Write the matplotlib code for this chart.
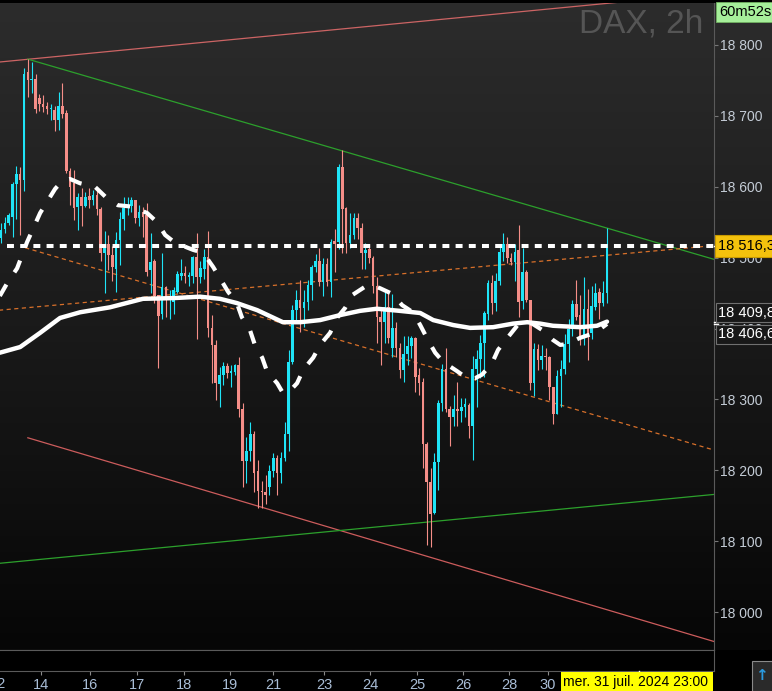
import numpy as np
import matplotlib
matplotlib.use("Agg")
import matplotlib.pyplot as plt
from matplotlib.patches import Rectangle
from matplotlib.colors import LinearSegmentedColormap

plt.rcParams['font.family'] = ['Liberation Sans', 'DejaVu Sans']
plt.rcParams['lines.scale_dashes'] = False

# DAX 2h candles (open / high / low / close)
opens = [18528, 18541, 18549, 18557, 18604, 18618, 18610, 18762, 18751, 18752,
         18725, 18717, 18714, 18709, 18708, 18694, 18714, 18704, 18622, 18606,
         18572, 18586, 18573, 18587, 18581, 18588, 18569, 18507, 18520, 18504,
         18484, 18525, 18555, 18570, 18573, 18581, 18556, 18565, 18560, 18482,
         18495, 18447, 18420, 18458, 18443, 18437, 18452, 18474, 18479, 18473,
         18474, 18501, 18473, 18484, 18501, 18401, 18377, 18322, 18335, 18347,
         18338, 18339, 18349, 18287, 18213, 18227, 18252, 18199, 18171, 18169,
         18177, 18199, 18218, 18197, 18218, 18252, 18353, 18426, 18440, 18429,
         18438, 18462, 18487, 18495, 18466, 18491, 18466, 18524, 18522, 18628,
         18570, 18521, 18532, 18556, 18542, 18507, 18512, 18500, 18460, 18416,
         18409, 18430, 18373, 18401, 18373, 18342, 18364, 18375, 18387, 18334,
         18325, 18237, 18184, 18140, 18212, 18295, 18343, 18286, 18275, 18287,
         18284, 18290, 18292, 18262, 18343, 18357, 18380, 18420, 18464, 18436,
         18467, 18508, 18520, 18500, 18494, 18511, 18439, 18480, 18440, 18323,
         18371, 18355, 18362, 18360, 18318, 18280, 18333, 18343, 18378, 18399,
         18435, 18419, 18388, 18428, 18394, 18431, 18452, 18436, 18450]
highs = [18549, 18557, 18563, 18607, 18629, 18628, 18768, 18780, 18776, 18759,
         18731, 18729, 18720, 18717, 18714, 18734, 18746, 18708, 18627, 18624,
         18591, 18598, 18593, 18598, 18595, 18595, 18572, 18538, 18532, 18517,
         18536, 18565, 18586, 18586, 18586, 18582, 18574, 18572, 18577, 18535,
         18498, 18447, 18507, 18460, 18455, 18459, 18481, 18498, 18488, 18480,
         18503, 18535, 18495, 18512, 18537, 18419, 18384, 18346, 18353, 18352,
         18348, 18350, 18360, 18295, 18247, 18268, 18255, 18215, 18185, 18194,
         18208, 18225, 18222, 18226, 18268, 18370, 18433, 18455, 18469, 18455,
         18469, 18490, 18505, 18514, 18500, 18500, 18526, 18540, 18632, 18652,
         18572, 18563, 18563, 18563, 18549, 18521, 18520, 18503, 18473, 18426,
         18451, 18451, 18449, 18410, 18380, 18389, 18389, 18389, 18388, 18344,
         18330, 18240, 18204, 18225, 18299, 18350, 18372, 18291, 18306, 18324,
         18302, 18302, 18295, 18362, 18370, 18391, 18425, 18469, 18476, 18479,
         18520, 18535, 18529, 18507, 18520, 18546, 18513, 18483, 18441, 18380,
         18378, 18377, 18373, 18361, 18318, 18341, 18356, 18392, 18414, 18440,
         18469, 18447, 18473, 18456, 18460, 18464, 18457, 18467, 18542]
lows = [18521, 18535, 18546, 18529, 18555, 18532, 18594, 18727, 18732, 18704,
        18707, 18706, 18703, 18694, 18679, 18680, 18697, 18619, 18574, 18553,
        18539, 18545, 18572, 18570, 18575, 18560, 18495, 18450, 18483, 18467,
        18452, 18490, 18539, 18560, 18565, 18549, 18545, 18529, 18474, 18450,
        18436, 18345, 18413, 18417, 18414, 18420, 18450, 18469, 18465, 18460,
        18465, 18386, 18465, 18470, 18388, 18323, 18299, 18290, 18320, 18330,
        18318, 18335, 18276, 18177, 18182, 18213, 18170, 18147, 18147, 18152,
        18165, 18190, 18166, 18182, 18213, 18227, 18350, 18412, 18395, 18402,
        18426, 18440, 18480, 18460, 18446, 18460, 18445, 18480, 18512, 18507,
        18507, 18514, 18526, 18526, 18484, 18484, 18493, 18450, 18380, 18349,
        18380, 18380, 18360, 18360, 18330, 18325, 18348, 18358, 18311, 18306,
        18203, 18095, 18092, 18139, 18173, 18284, 18283, 18235, 18263, 18262,
        18268, 18276, 18245, 18215, 18289, 18330, 18332, 18412, 18420, 18425,
        18462, 18495, 18493, 18490, 18467, 18417, 18427, 18437, 18313, 18305,
        18341, 18343, 18342, 18299, 18266, 18280, 18290, 18336, 18353, 18389,
        18412, 18377, 18377, 18356, 18386, 18426, 18414, 18432, 18436]
closes = [18539, 18549, 18560, 18604, 18618, 18610, 18759, 18751, 18752, 18710,
          18717, 18712, 18710, 18711, 18694, 18714, 18703, 18622, 18600, 18570,
          18586, 18573, 18586, 18581, 18588, 18569, 18507, 18520, 18504, 18487,
          18525, 18555, 18570, 18574, 18581, 18556, 18565, 18558, 18480, 18494,
          18446, 18418, 18458, 18443, 18445, 18455, 18477, 18478, 18474, 18475,
          18501, 18473, 18486, 18501, 18401, 18377, 18323, 18335, 18347, 18337,
          18340, 18348, 18287, 18213, 18227, 18252, 18197, 18171, 18169, 18166,
          18199, 18218, 18197, 18218, 18252, 18353, 18426, 18440, 18429, 18438,
          18462, 18487, 18495, 18466, 18491, 18466, 18522, 18519, 18628, 18569,
          18521, 18532, 18556, 18542, 18507, 18511, 18500, 18460, 18416, 18409,
          18430, 18387, 18401, 18373, 18342, 18364, 18375, 18387, 18332, 18323,
          18237, 18184, 18139, 18212, 18295, 18343, 18286, 18275, 18286, 18284,
          18290, 18293, 18262, 18343, 18357, 18380, 18422, 18464, 18436, 18467,
          18508, 18520, 18500, 18494, 18508, 18438, 18480, 18440, 18323, 18371,
          18355, 18362, 18360, 18318, 18280, 18333, 18343, 18378, 18399, 18435,
          18417, 18388, 18428, 18388, 18432, 18450, 18436, 18450, 18516.3]

# moving averages (bar position, value)
slow_ma_x = [-0.3, 5.0, 10.2, 15.4, 20.6, 28.4, 37.0, 44.9, 51.9, 57.1, 61.5, 66.8,
             73.5, 78.0, 83.2, 88.4, 93.6, 98.0, 104.0, 109.3, 112.7, 117.9, 122.3,
             128.3, 133.5, 137.2, 140.6, 143.9, 151.0, 155.4, 158.0]
slow_ma = [18366, 18374, 18394, 18415, 18423, 18430, 18442, 18443, 18445, 18442, 18436,
           18426, 18409, 18409, 18412, 18419, 18425, 18428, 18425, 18422, 18412, 18405,
           18401, 18402, 18407, 18409, 18407, 18404, 18402, 18404, 18409.8]
fast_ma_x = [-0.3, 1.6, 4.2, 6.8, 10.2, 14.1, 15.9, 18.0, 20.6, 24.5, 27.6, 30.5, 34.2,
             38.1, 40.7, 42.8, 45.4, 50.1, 52.7, 55.3, 57.1, 59.2, 61.5, 62.8, 64.9, 66.2,
             68.1, 69.4, 72.0, 73.3, 74.8, 77.2, 78.8, 81.4, 83.2, 85.8, 87.6, 89.7, 91.5,
             94.9, 96.7, 98.8, 102.0, 104.6, 107.4, 109.3, 111.3, 113.2, 115.3, 118.9,
             121.8, 123.6, 125.4, 128.0, 129.6, 132.2, 135.3, 138.5, 141.1, 143.9, 145.8,
             147.6, 151.0, 154.9, 158.0]
fast_ma = [18446, 18464, 18485, 18522, 18563, 18597, 18608, 18611, 18605, 18600, 18584,
           18574, 18572, 18563, 18550, 18532, 18521, 18511, 18507, 18487, 18471, 18452,
           18436, 18416, 18398, 18377, 18359, 18339, 18323, 18311, 18309, 18323, 18342,
           18359, 18377, 18394, 18415, 18429, 18447, 18459, 18461, 18457, 18449, 18433,
           18423, 18405, 18384, 18366, 18353, 18340, 18329, 18330, 18335, 18351, 18370,
           18388, 18409, 18407, 18398, 18384, 18377, 18378, 18387, 18394, 18406.6]

last_price = 18516.3

# trend lines: two anchors (bar position, price)
red_top = [(-0.3, 18776), (156.7, 18858)]
green_top = [(7.0, 18780), (185.7, 18498)]
red_bottom = [(7.0, 18246), (185.7, 17959)]
green_bottom = [(-0.3, 18069), (185.7, 18166)]
orange_up = [(-0.3, 18426), (185.7, 18517)]
orange_down = [(6.3, 18514), (185.7, 18229)]

day_pos = [10.4, 23.2, 35.5, 47.7, 59.7, 70.9, 84.2, 96.2, 108.5, 120.5, 132.5, 142.6]
day_labels = ['14', '16', '17', '18', '19', '21', '23', '24', '25', '26', '28', '30']
future_pos = [157.5, 168.7, 181.7]

W, H = 772, 691
fig = plt.figure(figsize=(W / 100, H / 100), dpi=100, facecolor='#000000')

y_bot = 1 - 650 / H
y_top = 1 - 3 / H
ax_w = 714 / W

bg = fig.add_axes([0, y_bot, 1, y_top - y_bot], zorder=0)
grad = np.linspace(0, 1, 256).reshape(-1, 1)
cm = LinearSegmentedColormap.from_list('bg', ['#2c2c2c', '#1a1a1a', '#060606'])
bg.imshow(grad, aspect='auto', cmap=cm, extent=[0, 1, 0, 1])
bg.axis('off')

ax = fig.add_axes([0, y_bot, ax_w, y_top - y_bot], zorder=1)
ax.patch.set_alpha(0)
x0, x1 = -0.26, 185.9
ax.set_xlim(x0, x1)
ax.set_ylim(17946.7, 18859.2)

x = np.arange(len(closes))
o = np.array(opens, float)
c = np.array(closes, float)
hi = np.array(highs, float)
lo = np.array(lows, float)
up = c >= o
cols = np.where(up, '#1fe4f7', '#f58e88')

# trend lines
def seg(a, color, start=None, ls='-'):
    (xa, ya), (xb, yb) = a
    slope = (yb - ya) / (xb - xa)
    xs = np.array([xa if start is None else start, x1 + 2])
    ax.plot(xs, ya + slope * (xs - xa), color=color, lw=0.9, ls=ls, zorder=2)

seg(red_top, '#cc6464', start=x0 - 1)
seg(green_top, '#2ca02c')
seg(red_bottom, '#cc5c5c')
seg(green_bottom, '#2ca02c', start=x0 - 1)
seg(orange_up, '#d8702a', start=x0 - 1, ls=(0, (3, 2.5)))
seg(orange_down, '#d8702a', ls=(0, (3, 2.5)))

# candles
ax.vlines(x, lo, hi, colors=cols, lw=0.8, zorder=3)
body = np.maximum(np.abs(c - o), 1.5)
ax.bar(x, body, bottom=np.minimum(o, c), width=0.68, color=cols, zorder=3)

# moving averages
ax.plot(slow_ma_x, slow_ma, color='white', lw=3.2, solid_capstyle='round', zorder=4)
ax.plot(fast_ma_x, fast_ma, color='white', lw=3.0, ls=(0, (9.5, 10.5)), zorder=4)

# last price line
ax.hlines(last_price, 1.6, x1, colors='white', lw=2.9, linestyles=(0, (5, 4.5)), zorder=5)

# axes styling
for s in ['left', 'top']:
    ax.spines[s].set_visible(False)
for s in ['right', 'bottom']:
    ax.spines[s].set_color('#5a5a5a')
ax.set_xticks([])
ax.yaxis.tick_right()
ax.set_yticks(np.arange(18000, 18801, 100))
ax.set_yticklabels([f"{v:,}".replace(',', ' ') for v in range(18000, 18801, 100)])
ax.tick_params(axis='y', colors='#777777', labelcolor='#c4ccd6', labelsize=10,
               length=3, pad=1.5)

# price labels on the right scale
yt = ax.get_yaxis_transform()
ax.plot([1.0, 1.006], [last_price] * 2, transform=yt, color='white', lw=1, clip_on=False, zorder=6)
ax.text(1.006, last_price, '18 516,3', transform=yt, ha='left', va='center', fontsize=10.5,
        color='black', clip_on=False, zorder=7,
        bbox=dict(boxstyle='square,pad=0.25', fc='#f4c20d', ec='#c89a00', lw=0.8))
for val, txt, dy in [(slow_ma[-1], '18 409,8', 6.5), (fast_ma[-1], '18 406,6', -7.5)]:
    ax.plot([1.0, 1.006], [val] * 2, transform=yt, color='white', lw=1, clip_on=False, zorder=6)
    ax.annotate(txt, xy=(1.006, val), xycoords=yt, xytext=(0, dy), textcoords='offset points',
                ha='left', va='center', fontsize=10.5, color='white', annotation_clip=False, zorder=7,
                bbox=dict(boxstyle='square,pad=0.15', fc='#181818', ec='#707070', lw=0.8))

# lower strip with date ticks
ax2 = fig.add_axes([0, 1 - 671 / H, ax_w, 21 / H], zorder=1)
ax2.set_facecolor('#000000')
ax2.set_xlim(x0, x1)
ax2.set_yticks([])
ax2.spines['left'].set_visible(False)
for s in ['right', 'bottom', 'top']:
    ax2.spines[s].set_color('#5a5a5a')
ax2.set_xticks(day_pos + future_pos)
ax2.set_xticklabels(day_labels + [''] * len(future_pos))
ax2.tick_params(axis='x', colors='#8a8a8a', labelcolor='#a9bdd6', labelsize=10.5,
                length=3, pad=2)
fig.text(-2 / W, 1 - 684 / H, '12', ha='center', va='center', fontsize=10.5, color='#a9bdd6')

# cursor date box
fig.patches.append(Rectangle((561 / W, 0), 152 / W, 19 / H, transform=fig.transFigure,
                             fc='#ffff00', ec='none', zorder=5))
fig.text(563 / W, 1 - 682 / H, 'mer. 31 juil. 2024 23:00', ha='left', va='center',
         fontsize=10, color='black', zorder=6)
fig.lines.append(plt.Line2D([639 / W, 639 / W], [1 - 671 / H, 1 - 676 / H],
                            transform=fig.transFigure, color='white', lw=1))

# bottom-right icon
fig.patches.append(Rectangle((752 / W, 0), 22 / W, 30 / H, transform=fig.transFigure,
                             fc='#2a2a2a', ec='#8a8a8a', lw=0.8))
fig.text(761 / W, 1 - 675 / H, '\u2191', ha='center', va='center', fontsize=11,
         color='#2a9be0', fontweight='bold', family='DejaVu Sans')

# header
fig.text(703 / W, 1 - 24 / H, 'DAX, 2h', ha='right', va='center', fontsize=24, color='#555555')
fig.text(719 / W, 1 - 12 / H, '60m52s', ha='left', va='center', fontsize=10.5, color='black',
         bbox=dict(boxstyle='square,pad=0.2', fc='#a6ef9a', ec='#70b060', lw=0.6))

fig.savefig('out.png', dpi=100, facecolor=fig.get_facecolor())
